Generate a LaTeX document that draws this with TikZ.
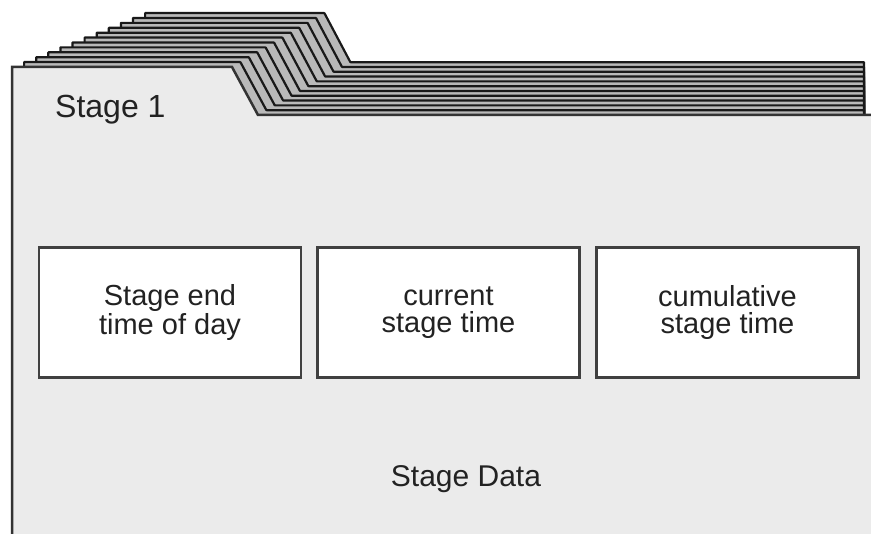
\documentclass[tikz,border=0pt]{standalone}
\usepackage{fontspec}
\setmainfont{Liberation Sans}
\usetikzlibrary{positioning}
\definecolor{cardgray}{HTML}{EBEBEB}
\definecolor{inkgray}{HTML}{222222}

\begin{document}
\begin{tikzpicture}[x=1pt, y=-1pt,
    stagebox/.style={draw=black!75, line width=2.5pt, fill=white, minimum width=262pt, minimum height=130pt, inner sep=0pt, align=center, text=inkgray, font=\fontsize{29}{26.5}\selectfont},
    stagetext/.style={text=inkgray, inner sep=0pt, font=\fontsize{30}{26}\selectfont}]
    \useasboundingbox (0,0) rectangle (871,534);
    \fill[white] (0,0) rectangle (871,534);

    % Stacked cards behind
    \foreach \i in {11,...,1} {
        \pgfmathsetmacro\lx{12+12.1*\i}
        \pgfmathsetmacro\ty{67-4.9*\i}
        \pgfmathsetmacro\tx{232+8.4*\i}
        \pgfmathsetmacro\sx{258+8.4*\i}
        \pgfmathsetmacro\by{115-4.8*\i}
        \filldraw[fill=gray!55, draw=black!90, line width=2.2pt, rounded corners=0.5pt] (\lx,545) -- (\lx,\ty) -- (\tx,\ty) -- (\sx,\by) -- (864,\by) -- (864,545) -- cycle;
    }

    % Front card
    \fill[cardgray] (12,545) -- (12,67) -- (232,67) -- (258,115) -- (875,115) -- (875,545) -- cycle;
    \draw[black!80, line width=2.5pt] (12,545) -- (12,67) -- (232,67) -- (258,115) -- (875,115);
    \node[stagetext, anchor=base west] (title) at (55,118) {\fontsize{32}{32}\selectfont Stage 1};

    % Data fields
    \node[stagebox] (endtime) at (170,312.5) {Stage end\\time of day};
    \node[stagebox] (curtime) at (448.5,312.5) {current\\stage time};
    \node[stagebox] (cumtime) at (727.5,312.5) {cumulative\\stage time};

    \node[stagetext, anchor=base] (data) at (466,487) {Stage Data};
\end{tikzpicture}
\end{document}
